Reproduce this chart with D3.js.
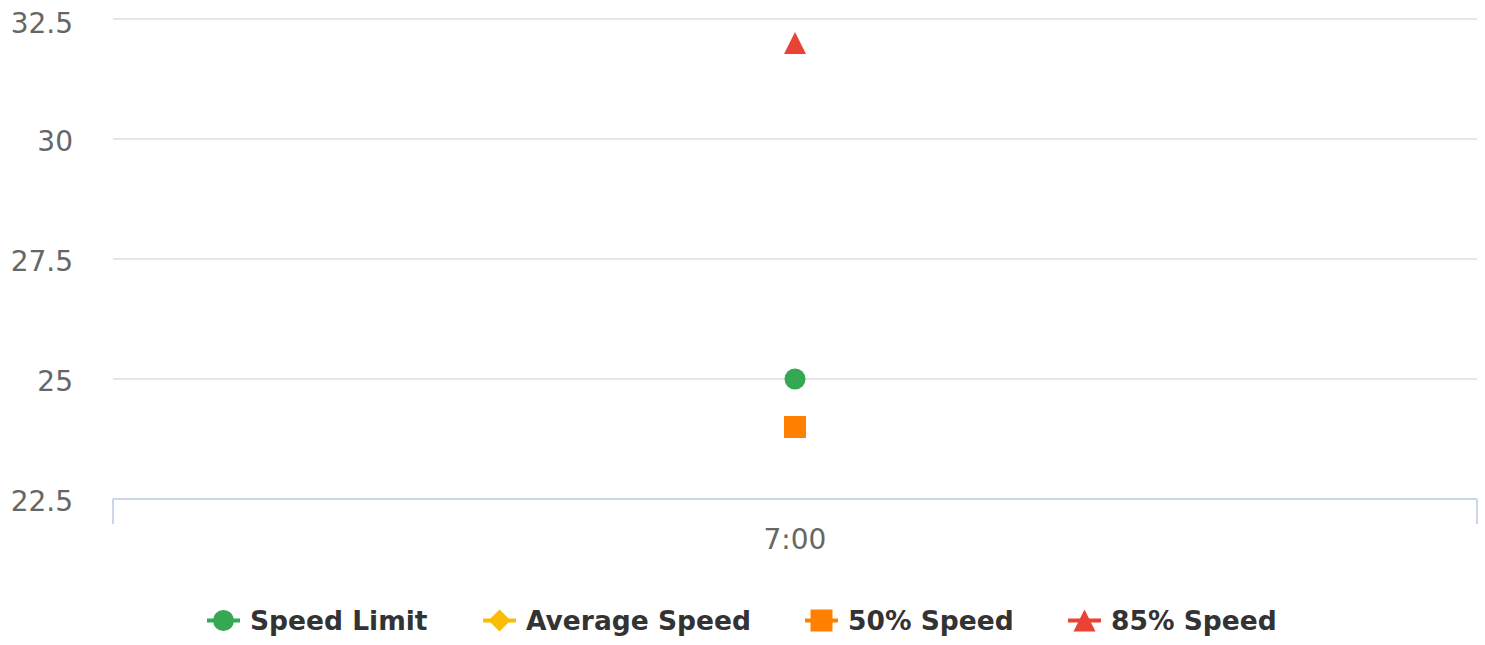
<!DOCTYPE html>
<html>
<head>
<meta charset="utf-8">
<script src="https://cdn.jsdelivr.net/npm/d3@7"></script>
<style>
  body { margin: 0; background: #fff; }
  svg { display: block; font-family: "DejaVu Sans", sans-serif; }
</style>
</head>
<body>
<svg id="chart" width="1485" height="645"></svg>
<script>
const categories = ["7:00"];
const seriesNames = ["Speed Limit", "Average Speed", "50% Speed", "85% Speed"];
const seriesColors = ["#34a853", "#fbbc04", "#ff8000", "#ea4335"];
const seriesSymbols = ["circle", "diamond", "square", "triangle"];
const speedLimit = [25];
const averageSpeed = [24];
const speed50 = [24];
const speed85 = [32];
const yTicks = [22.5, 25, 27.5, 30, 32.5];

const series = [speedLimit, averageSpeed, speed50, speed85].map((values, i) => ({
  name: seriesNames[i],
  color: seriesColors[i],
  symbol: seriesSymbols[i],
  values,
}));

const svg = d3.select("#chart");
const margin = { left: 113, right: 8, top: 19, bottom: 146 };
const width = 1485, height = 645;

const x = d3.scaleBand()
  .domain(categories)
  .range([margin.left, width - margin.right])
  .padding(0);

const y = d3.scaleLinear()
  .domain([22.5, 32.5])
  .range([height - margin.bottom, margin.top]);

// gridlines
svg.append("g")
  .selectAll("line")
  .data(yTicks.slice(1))
  .join("line")
  .attr("x1", margin.left)
  .attr("x2", width - margin.right)
  .attr("y1", d => y(d))
  .attr("y2", d => y(d))
  .attr("stroke", "#e6e6e6")
  .attr("stroke-width", 2);

// y labels
svg.append("g")
  .selectAll("text")
  .data(yTicks)
  .join("text")
  .attr("x", 73)
  .attr("y", d => Math.max(y(d) + 12, 33))
  .attr("text-anchor", "end")
  .attr("fill", "#666666")
  .attr("font-size", 28)
  .text(d => d);

// x axis
const xAxis = svg.append("g")
  .attr("transform", `translate(0,${y(22.5)})`);

xAxis.append("line")
  .attr("x1", margin.left)
  .attr("x2", width - margin.right)
  .attr("stroke", "#ccd6eb")
  .attr("stroke-width", 2);

const tickEdges = [x(categories[0]), x(categories[categories.length - 1]) + x.bandwidth()];
xAxis.selectAll(".tick-line")
  .data(tickEdges)
  .join("line")
  .attr("class", "tick-line")
  .attr("x1", d => d)
  .attr("x2", d => d)
  .attr("y1", 0)
  .attr("y2", 25)
  .attr("stroke", "#ccd6eb")
  .attr("stroke-width", 2);

xAxis.selectAll(".tick-label")
  .data(categories)
  .join("text")
  .attr("class", "tick-label")
  .attr("x", d => x(d) + x.bandwidth() / 2)
  .attr("y", 50)
  .attr("text-anchor", "middle")
  .attr("fill", "#666666")
  .attr("font-size", 28)
  .text(d => d);

// marker shapes, r = half size in px
function symbolPath(s, r = 11) {
  if (s === "circle") {
    return d3.path().arc ? `M${-r},0A${r},${r} 0 1,0 ${r},0A${r},${r} 0 1,0 ${-r},0Z` : "";
  }
  if (s === "square") return `M${-r},${-r}H${r}V${r}H${-r}Z`;
  if (s === "diamond") return `M0,${-r}L${r},0L0,${r}L${-r},0Z`;
  return `M0,${-r}L${r},${r}L${-r},${r}Z`;
}

// markers
series.forEach(s => {
  svg.append("g")
    .selectAll("path")
    .data(s.values)
    .join("path")
    .attr("transform", (d, i) => `translate(${x(categories[i]) + x.bandwidth() / 2},${y(d)})`)
    .attr("d", symbolPath(s.symbol, s.symbol === "circle" ? 10.5 : 11))
    .attr("fill", s.color);
});

// legend
const legendX = [207, 483, 805, 1068];
const legend = svg.append("g").attr("transform", "translate(0,620.5)");
const items = legend.selectAll("g")
  .data(series)
  .join("g")
  .attr("transform", (d, i) => `translate(${legendX[i]},0)`);

items.append("line")
  .attr("x1", 0)
  .attr("x2", 33)
  .attr("stroke", d => d.color)
  .attr("stroke-width", 4);

items.append("path")
  .attr("transform", "translate(16.5,0)")
  .attr("d", d => symbolPath(d.symbol, d.symbol === "circle" ? 10.5 : 11))
  .attr("fill", d => d.color);

items.append("text")
  .attr("x", 43)
  .attr("y", 9.5)
  .attr("fill", "#333333")
  .attr("font-size", 26.5)
  .attr("font-weight", "bold")
  .text(d => d.name);
</script>
</body>
</html>
